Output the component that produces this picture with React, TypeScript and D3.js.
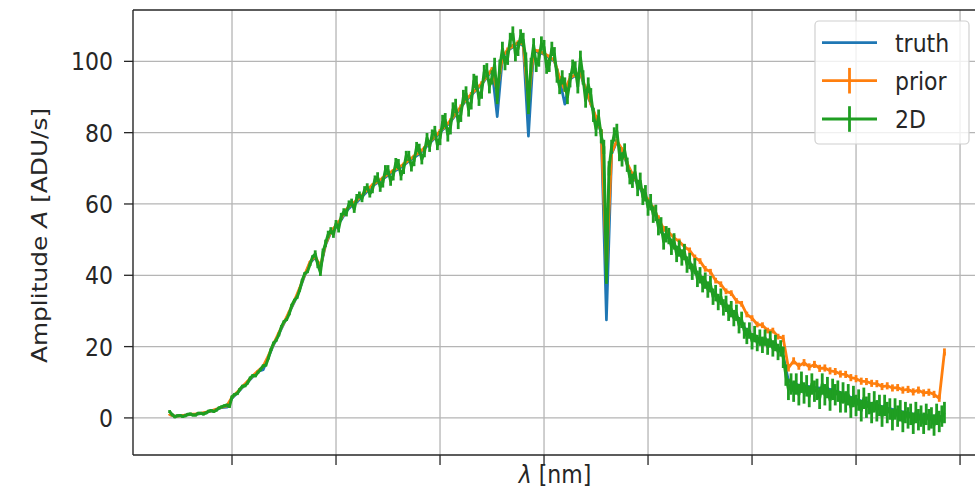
import React from "react";
import * as d3 from "d3";

// wavelength grids (nm)
const lambdaStart = 340;
const lambdaStep = 5; // truth & prior sampling
const lambdaStep2D = 2.5; // 2D extraction sampling

const truth = [
  1.0, 0.5, 0.6, 0.8, 0.9, 1.0, 1.2, 1.5, 1.9, 2.3,
  2.9, 3.0, 5.5, 7.0, 8.5, 10.0, 11.5, 13.0, 13.5, 17.0,
  20.5, 23.5, 26.5, 29.5, 32.5, 36.0, 40.0, 43.5, 45.0, 42.0,
  48.5, 52.0, 53.5, 55.5, 58.0, 59.5, 60.5, 62.0, 63.5, 65.0,
  66.0, 67.0, 68.0, 69.0, 69.8, 70.8, 72.0, 73.0, 74.0, 75.5,
  77.0, 78.5, 80.0, 81.5, 83.0, 85.0, 87.0, 89.0, 90.5, 92.0,
  93.5, 95.5, 97.5, 84.5, 101.0, 103.0, 104.0, 105.0, 104.5, 79.0,
  103.0, 102.5, 102.0, 101.0, 100.0, 95.0, 88.0, 95.0, 96.0, 96.5,
  92.0, 88.0, 84.0, 80.0, 27.5, 74.0, 77.5, 75.0, 71.0, 68.0,
  65.5, 63.0, 60.5, 58.0, 55.0, 51.0, 50.5, 48.5, 47.0, 45.5,
  43.5, 41.5, 39.5, 38.0, 36.5, 34.5, 33.0, 31.5, 30.0, 28.5,
  27.0, 24.0, 23.0, 22.5, 22.0, 21.5, 21.0, 20.0, 17.5, 10.5,
  9.5, 9.2, 9.0, 8.8, 8.6, 8.4, 8.3, 8.0, 7.6, 7.1,
  6.4, 5.8, 5.2, 4.8, 4.5, 4.0, 3.6, 3.2, 2.8, 2.4,
  2.0, 1.7, 1.4, 1.1, 0.9, 0.7, 0.6, 0.5, 0.4, 0.6,
];

const prior = [
  0.9, 0.5, 0.6, 0.8, 1.0, 1.1, 1.3, 1.6, 2.0, 2.5,
  3.0, 3.4, 5.8, 7.2, 8.8, 10.3, 11.8, 13.2, 14.5, 17.5,
  20.8, 23.9, 26.8, 29.8, 32.9, 36.4, 40.3, 43.8, 45.3, 42.5,
  48.8, 52.3, 54.0, 56.0, 58.5, 60.0, 61.0, 62.5, 64.0, 65.4,
  66.3, 67.3, 68.4, 69.4, 70.2, 71.2, 72.3, 73.4, 74.4, 75.8,
  77.4, 78.8, 80.4, 81.8, 83.4, 85.3, 87.3, 89.3, 90.8, 92.3,
  93.8, 95.8, 97.8, 91.5, 101.3, 103.3, 104.3, 105.3, 104.8, 88.5,
  103.3, 102.8, 102.3, 101.3, 100.3, 95.3, 92.0, 95.3, 96.3, 96.8,
  92.3, 88.3, 84.3, 80.3, 42.0, 74.3, 77.8, 75.3, 71.4, 68.4,
  65.8, 63.5, 61.0, 58.8, 56.0, 53.0, 52.0, 50.5, 49.5, 48.0,
  47.0, 45.0, 44.0, 41.8, 41.0, 38.5, 37.5, 35.5, 35.0, 32.8,
  32.0, 29.0, 28.0, 26.2, 26.0, 24.5, 24.5, 22.8, 22.3, 14.0,
  16.0, 14.5, 15.5, 14.3, 15.0, 13.9, 14.0, 13.2, 13.0, 12.3,
  12.2, 11.3, 11.0, 10.3, 10.2, 9.7, 9.6, 8.8, 9.0, 8.4,
  8.5, 7.8, 8.0, 7.3, 7.8, 7.0, 7.2, 6.6, 5.5, 18.5,
];

const twoD = [
  1.8, 0.9, 0.3, 0.6, 0.7, 0.4, 0.6, 1.0, 1.1, 0.8,
  0.8, 1.3, 1.3, 1.1, 1.4, 1.9, 2.1, 1.8, 2.2, 2.8,
  3.1, 3.4, 3.6, 3.2, 5.9, 6.6, 6.8, 8.0, 8.9, 9.0,
  9.8, 11.2, 11.9, 11.8, 12.8, 13.6, 14.6, 14.8, 16.8, 19.2,
  21.0, 21.8, 23.3, 25.6, 27.0, 27.6, 29.2, 31.6, 33.0, 33.8,
  35.8, 38.6, 40.5, 41.0, 43.0, 45.2, 46.0, 43.0, 40.8, 46.5,
  49.0, 51.5, 52.5, 51.5, 54.5, 53.0, 56.5, 57.8, 57.5, 60.0,
  60.5, 58.5, 61.8, 62.5, 61.5, 64.0, 64.8, 62.8, 64.0, 67.0,
  67.5, 64.8, 66.0, 69.5, 69.5, 66.5, 68.0, 71.5, 71.2, 68.0,
  69.8, 73.5, 73.5, 70.5, 72.0, 76.0, 75.5, 72.5, 74.5, 78.5,
  76.0, 79.5, 80.5, 76.5, 78.5, 83.0, 83.5, 79.5, 81.5, 86.5,
  87.5, 83.0, 85.0, 90.0, 91.0, 86.5, 88.5, 94.5, 94.0, 89.5,
  91.5, 97.0, 97.5, 93.0, 95.5, 99.0, 90.0, 98.5, 103.5, 99.5,
  101.0, 106.0, 107.8, 102.0, 103.5, 107.0, 106.0, 100.5, 87.2, 99.0,
  104.5, 99.0, 100.5, 105.0, 104.0, 98.5, 99.0, 103.5, 102.0, 96.0,
  92.8, 95.5, 93.5, 90.0, 94.7, 98.5, 98.0, 93.0, 101.0, 95.5,
  89.0, 93.5, 90.5, 85.0, 81.0, 84.5, 79.0, 76.0, 39.6, 70.0,
  76.0, 79.5, 80.5, 74.0, 72.5, 75.0, 71.0, 67.5, 66.5, 69.0,
  64.5, 66.5, 62.0, 63.0, 59.0, 60.5, 57.0, 57.5, 53.5, 54.0,
  49.5, 51.5, 51.0, 48.0, 49.5, 46.0, 47.5, 45.0, 46.5, 43.0,
  44.0, 41.0, 42.5, 39.0, 40.0, 37.5, 38.5, 36.0, 37.5, 34.0,
  35.0, 32.5, 34.0, 31.0, 32.0, 29.5, 30.5, 28.0, 29.5, 26.0,
  27.5, 24.5, 23.0, 24.5, 21.5, 23.5, 21.0, 22.5, 20.5, 22.5,
  20.0, 22.0, 19.5, 21.0, 18.5, 19.5, 17.0, 12.0, 8.0, 9.5,
  7.5, 9.5, 6.5, 10.0, 7.0, 9.0, 6.0, 9.5, 7.5, 8.0,
  5.5, 9.5, 6.5, 8.5, 5.0, 8.0, 6.5, 7.5, 4.5, 7.0,
  4.5, 6.5, 3.0, 6.0, 3.5, 5.0, 2.0, 5.5, 3.0, 4.0,
  1.5, 4.5, 2.0, 3.5, 0.5, 3.5, 1.5, 2.5, -0.5, 2.5,
  0.5, 2.0, -1.0, 1.5, 0.0, 1.0, -1.5, 1.5, -0.5, 0.5,
  -1.5, 1.0, -0.5, 0.0, -2.0, 1.0, -1.0, 0.5, 1.5,
];

// error bar half-lengths, read per wavelength band (band starts in nm)
const sigmaBandStart = [340, 480, 540, 600, 790, 930];
const twoDSigma = [0.4, 1.0, 1.4, 2.0, 2.3, 3.0];
const priorSigma = [0.2, 0.3, 0.4, 0.6, 0.8, 1.0];

const wavelengths = truth.map((_, i) => lambdaStart + i * lambdaStep);
const wavelengths2D = twoD.map((_, i) => lambdaStart + i * lambdaStep2D);

const xTicks = [400, 500, 600, 700, 800, 900, 1000, 1100];
const yTicks = [0, 20, 40, 60, 80, 100];
const seriesNames = ["truth", "prior", "2D"];
const seriesColors = ["#1f77b4", "#ff7f0e", "#1f9e22"];
const seriesHasBars = [false, true, true];

const W = 975;
const H = 492;
const left = 133;
const right = 977;
const top = 10;
const bottom = 455;
const SY = 1.13; // vertical stretch of text
const FONT = "DejaVu Sans, sans-serif";
const FS = 22;
const ink = "#262626";

function bandValue(lam: number, table: number[]) {
  const k = d3.bisectRight(sigmaBandStart, lam) - 1;
  return table[Math.max(0, k)];
}

export default function App() {
  const x = d3.scaleLinear().domain([304.8, 1116.3]).range([left, right]);
  const y = d3.scaleLinear().domain([-10.4, 114.4]).range([bottom, top]);
  const mkLine = (grid: number[]) =>
    d3
      .line<number>()
      .x((_, i) => x(grid[i]))
      .y((d) => y(d));
  const series = [
    { v: truth, g: wavelengths, s: null as number[] | null, w: 2.7 },
    { v: prior, g: wavelengths, s: priorSigma, w: 2.8 },
    { v: twoD, g: wavelengths2D, s: twoDSigma, w: 3.0 },
  ];

  const legX = 815;
  const legY = 21;
  const rowY = [42.7, 80.7, 119];

  return (
    <div style={{ position: "absolute", left: 0, top: 0 }}>
      <svg width={W} height={H} style={{ display: "block", background: "#fff" }}>
        <defs>
          <clipPath id="plotclip">
            <rect x={left} y={top} width={right - left} height={bottom - top} />
          </clipPath>
        </defs>
        {/* grid */}
        <g stroke="#b5b5b5" strokeWidth={1.3}>
          {xTicks.map((t) => (
            <line key={"gx" + t} x1={x(t)} x2={x(t)} y1={top} y2={bottom} />
          ))}
          {yTicks.map((t) => (
            <line key={"gy" + t} x1={left} x2={right} y1={y(t)} y2={y(t)} />
          ))}
        </g>
        {/* data */}
        <g clipPath="url(#plotclip)" fill="none" strokeLinejoin="round" strokeLinecap="butt">
          {series.map((s, k) => (
            <g key={seriesNames[k]} stroke={seriesColors[k]}>
              <path d={mkLine(s.g)(s.v) || ""} strokeWidth={s.w} />
              {s.s &&
                s.v.map((v, i) => {
                  const e = bandValue(s.g[i], s.s as number[]);
                  return (
                    <line
                      key={i}
                      x1={x(s.g[i])}
                      x2={x(s.g[i])}
                      y1={y(v - e)}
                      y2={y(v + e)}
                      strokeWidth={2.8}
                    />
                  );
                })}
            </g>
          ))}
        </g>
        {/* spines */}
        <g stroke={ink} strokeWidth={1.4} fill="none">
          <line x1={left} x2={left} y1={top} y2={bottom} />
          <line x1={left} x2={W} y1={top} y2={top} />
          <line x1={left} x2={W} y1={bottom} y2={bottom} />
        </g>
        {/* ticks */}
        <g stroke={ink} strokeWidth={1.3}>
          {yTicks.map((t) => (
            <line key={"ty" + t} x1={left - 9} x2={left} y1={y(t)} y2={y(t)} />
          ))}
          {xTicks.map((t) => (
            <line key={"tx" + t} x1={x(t)} x2={x(t)} y1={bottom} y2={bottom + 10} />
          ))}
        </g>
        {/* y tick labels */}
        <g fontFamily={FONT} fontSize={FS} fill={ink} textAnchor="end">
          {yTicks.map((t) => (
            <text key={"ly" + t} transform={`translate(${left - 20},${y(t)}) scale(1,${SY})`} dy="0.36em">
              {t}
            </text>
          ))}
        </g>
        {/* axis labels */}
        <text
          transform={`translate(${(left + right) / 2},483) scale(1,${SY})`}
          fontFamily={FONT}
          fontSize={FS}
          fill={ink}
          textAnchor="middle"
        >
          <tspan fontStyle="italic">λ</tspan> [nm]
        </text>
        <text
          transform={`translate(47,${(top + bottom) / 2 + 3}) scale(1,${SY}) rotate(-90)`}
          fontFamily={FONT}
          fontSize={FS}
          fill={ink}
          textAnchor="middle"
        >
          Amplitude <tspan fontStyle="italic">A</tspan> [ADU/s]
        </text>
        {/* legend */}
        <rect
          x={legX}
          y={legY}
          width={154}
          height={123}
          rx={4}
          fill="#fff"
          fillOpacity={0.8}
          stroke="#d0d0d0"
          strokeWidth={1.2}
        />
        {seriesNames.map((name, k) => (
          <g key={"leg" + name}>
            <line x1={822} x2={877} y1={rowY[k]} y2={rowY[k]} stroke={seriesColors[k]} strokeWidth={2.8} />
            {seriesHasBars[k] && (
              <line
                x1={849.5}
                x2={849.5}
                y1={rowY[k] - 12.8}
                y2={rowY[k] + 12.8}
                stroke={seriesColors[k]}
                strokeWidth={2.8}
              />
            )}
            <text
              transform={`translate(895,${rowY[k] + 9}) scale(1,${SY})`}
              fontFamily={FONT}
              fontSize={FS}
              fill={ink}
            >
              {name}
            </text>
          </g>
        ))}
      </svg>
    </div>
  );
}
